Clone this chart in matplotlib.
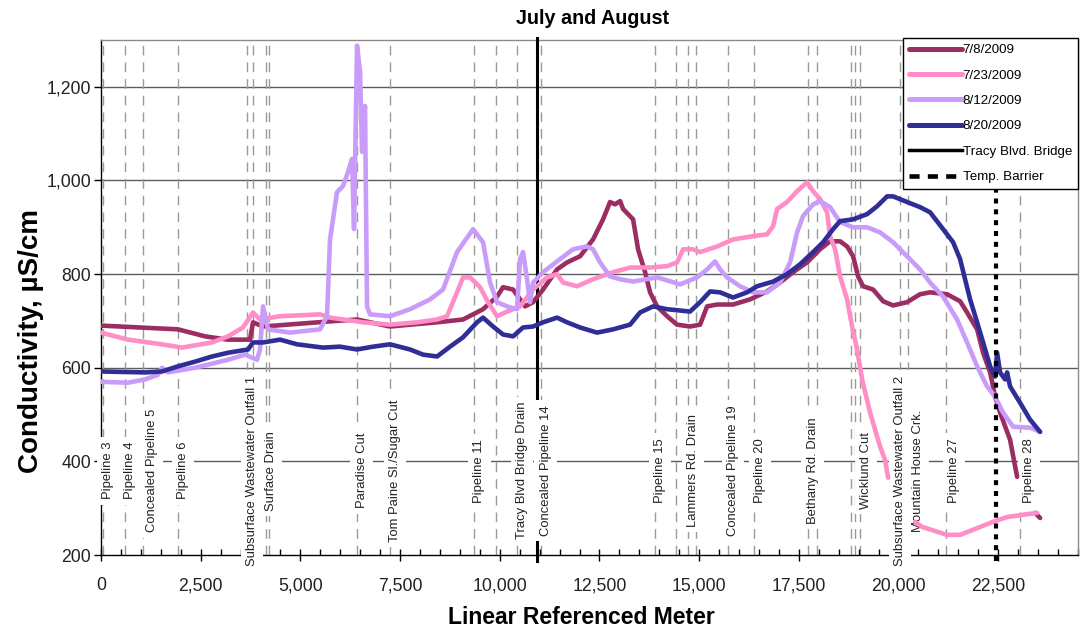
import numpy as np
import matplotlib
matplotlib.use("Agg")
import matplotlib.pyplot as plt
from matplotlib import font_manager
from matplotlib.lines import Line2D
from matplotlib.ticker import MultipleLocator, FuncFormatter
import matplotlib.transforms as mtransforms

nan = np.nan

# ---- survey data: linear referenced meter vs conductivity (uS/cm) ----
jul08_m = [0, 1931, 2608, 3185, 3737, 3812, 4063, 5743, 6420, 7248, 7750, 8427, 9079, 9581, 9932,
           10082, 10333, 10509, 10634, 10834, 11085, 11436, 11687, 12013, 12339, 12590, 12766, 12891,
           13017, 13092, 13343, 13468, 13644, 13769, 13945, 14196, 14446, 14772, 15023, 15198, 15449,
           15850, 16276, 16703, 17029, 17355, 17706, 18032, 18283, 18534, 18710, 18860, 18986, 19111,
           19362, 19613, 19863, 20214, 20540, 20791, 21217, 21543, 21719, 21970, 22120, 22296, 22421,
           22547, 22797, 22973, nan, 23424, 23550]
jul08_v = [690, 682, 667, 660, 660, 697, 688, 699, 703, 688, 692, 697, 703, 725, 752,
           772, 767, 746, 731, 740, 767, 810, 825, 838, 874, 917, 954, 949,
           956, 939, 917, 853, 804, 761, 731, 710, 692, 688, 692, 731, 735,
           735, 746, 763, 782, 804, 825, 853, 870, 870, 859, 838, 795, 774,
           767, 742, 733, 740, 757, 761, 757, 742, 718, 682, 632, 590, 538,
           504, 446, 367, nan, 290, 279]

jul23_m = [0, 677, 1530, 2031, 2784, 3185, 3561, 3812, 3988, 4489, 5493, 5743, 6571, 7248, 7925,
           8427, 8678, 8928, 9079, 9255, 9505, 9706, 9932, 10182, 10509, 10834, 11186, 11436, 11587,
           11938, 12339, 12841, 13268, 13769, 14196, 14446, 14597, 14847, 15023, 15449, 15850, 16352,
           16703, 16853, 16954, 17205, 17455, 17706, 17857, 18032, 18208, 18283, 18409, 18534, 18710,
           18835, 18960, 19086, 19287, 19538, 19663, 19738, nan, 20415, 20590, 21217, 21543, 21869,
           22371, 22722, 23124, 23475]
jul23_v = [675, 660, 650, 643, 654, 667, 686, 718, 703, 710, 714, 707, 697, 692, 697,
           703, 710, 761, 793, 793, 772, 740, 710, 720, 731, 767, 793, 800, 782,
           774, 789, 804, 814, 814, 817, 825, 853, 853, 847, 859, 874, 881,
           885, 902, 939, 954, 977, 996, 977, 960, 932, 881, 853, 795, 746,
           688, 639, 575, 504, 431, 403, 365, nan, 271, 260, 243, 243, 254,
           271, 281, 286, 290]

aug12_m = [0, 677, 1104, 1430, 1530, 1680, 2358, 3185, 3612, 3912, 3988, 4063, 4188, 4740, 5493,
           5668, 5743, 5919, 6069, 6195, 6295, 6345, 6420, 6496, 6546, 6621, 6671, 6747, 7248, 7750,
           8251, 8577, 8928, 9330, 9581, 9756, 9932, 10182, 10433, 10509, 10584, 10684, 10759, 10834,
           11085, 11511, 11837, 12188, 12339, 12515, 12766, 13017, 13343, 13945, 14522, 14947, 15198,
           15399, 15524, 15700, 16026, 16352, 16703, 17029, 17280, 17455, 17606, 17857, 18032, 18283,
           18534, 18860, 19211, 19538, 19863, 20214, 20540, 20791, 21117, 21468, 21719, 21970, 22221,
           22421, 22622, 22873, 23299, 23550]
aug12_v = [570, 568, 575, 585, 600, 590, 600, 617, 628, 617, 639, 731, 682, 675, 682,
           710, 874, 975, 988, 1018, 1046, 896, 1288, 1232, 1061, 1159, 731, 714, 710, 725,
           746, 767, 847, 896, 868, 782, 740, 731, 725, 832, 847, 789, 740, 782,
           804, 832, 853, 859, 853, 825, 795, 789, 784, 793, 778, 793, 810,
           827, 810, 793, 774, 761, 761, 782, 825, 889, 924, 949, 956, 943,
           911, 900, 900, 889, 868, 838, 810, 782, 752, 703, 654, 603, 560,
           538, 504, 474, 472, 463]

aug20_m = [0, 1104, 1530, 1931, 2358, 2784, 3185, 3687, 3812, 4063, 4489, 4916, 5568, 5994, 6420,
           6822, 7248, 7750, 8076, 8427, 8753, 9079, 9430, 9581, 9832, 10082, 10333, 10584, 10834,
           11085, 11436, 11687, 12013, 12440, 12841, 13268, 13518, 13844, 14196, 14772, 15023, 15274,
           15524, 15850, 16201, 16452, 16854, 17205, 17531, 17857, 18108, 18359, 18534, 18860, 19211,
           19462, 19713, 19863, 20214, 20540, 20791, 21117, 21368, 21543, 21668, 21794, 21970, 22120,
           22296, 22421, 22471, 22547, 22672, 22722, 22797, 23048, 23299, 23550]
aug20_v = [592, 590, 592, 603, 613, 624, 632, 639, 654, 654, 660, 650, 643, 645, 639,
           645, 650, 639, 628, 624, 645, 665, 697, 707, 688, 671, 667, 686, 688,
           697, 707, 697, 686, 675, 682, 692, 718, 731, 725, 720, 740, 763,
           761, 750, 761, 774, 784, 800, 821, 847, 868, 896, 913, 917, 928,
           945, 966, 966, 954, 943, 932, 896, 868, 832, 789, 746, 697, 654,
           603, 581, 632, 590, 575, 590, 560, 525, 489, 463]

series_labels = ["7/8/2009", "7/23/2009", "8/12/2009", "8/20/2009"]

# landmarks along the channel (meters)
landmark_names = ["Pipeline 3", "Pipeline 4", "Concealed Pipeline 5", "Pipeline 6",
                  "Subsurface Wastewater Outfall 1", "Surface Drain", "Paradise Cut",
                  "Tom Paine Sl./Sugar Cut", "Pipeline 11", "Tracy Blvd Bridge Drain",
                  "Concealed Pipeline 14", "Pipeline 15", "Lammers Rd. Drain",
                  "Concealed Pipeline 19", "Pipeline 20", "Bethany Rd. Drain", "Wicklund Cut",
                  "Subsurface Wastewater Outfall 2", "Mountain House Crk.", "Pipeline 27",
                  "Pipeline 28"]
landmark_m = [50, 600, 1055, 1930, 3660, 4140, 6410, 7250, 9365, 10430, 11025, 13890, 14720,
              15720, 16380, 17720, 19035, 20035, 20235, 21190, 23045]
unlabeled_m = [3805, 4220, 9895, 14420, 14920, 17950, 18800, 18910]

bridge_m = 10930
barrier_m = 22440

x_ticks = [0, 2500, 5000, 7500, 10000, 12500, 15000, 17500, 20000, 22500]
y_ticks = [200, 400, 600, 800, 1000, 1200]

# ---- fonts ----
_installed = {f.name for f in font_manager.fontManager.ttflist}
if 'Liberation Sans Narrow' in _installed:
    narrow = ['Liberation Sans Narrow', 'DejaVu Sans']
    tick_fs, xlabel_fs, title_fs, legend_fs = 15.5, 20, 17, 11.5
else:
    narrow = ['Liberation Sans', 'DejaVu Sans']
    tick_fs, xlabel_fs, title_fs, legend_fs = 12.7, 16.5, 14.2, 9.6
plt.rcParams['font.family'] = ['Liberation Sans', 'DejaVu Sans']

colors = ["#9B2D62", "#FF8DC8", "#C99CFA", "#2E2E96"]

fig = plt.figure(figsize=(10.81, 6.29), dpi=100)
ax = fig.add_axes([101 / 1081, 1 - 555 / 629, 977 / 1081, 515 / 629])
ax.set_xlim(0, 24500)
ax.set_ylim(200, 1300)

# horizontal grid
for y in y_ticks[1:]:
    ax.axhline(y, color="#5c5c5c", lw=1.0, zorder=1)

# landmark reference lines
for m in list(landmark_m) + list(unlabeled_m):
    ax.axvline(m, color="#9a9a9a", lw=1.0, ls=(0, (7, 5)), zorder=1.5)

# conductivity traces
for xs, ys, c, lab in zip([jul08_m, jul23_m, aug12_m, aug20_m],
                          [jul08_v, jul23_v, aug12_v, aug20_v], colors, series_labels):
    ax.plot(xs, ys, color=c, lw=3.3, label=lab, zorder=3.5,
            solid_joinstyle="round", solid_capstyle="round")

# bridge and barrier markers
trans_v = mtransforms.blended_transform_factory(ax.transData, ax.transAxes)
ax.plot([bridge_m, bridge_m], [-0.012, 1.004], transform=trans_v, color="black",
        lw=2.2, zorder=2.6, clip_on=False)
ax.plot([barrier_m, barrier_m], [-0.012, 1.004], transform=trans_v, color="black",
        lw=3.0, ls=(0, (1.2, 1.4)), zorder=3.6, clip_on=False)

# landmark labels, nudged right of their reference lines
label_dx = {"Concealed Pipeline 5": 9, "Subsurface Wastewater Outfall 2": 0,
            "Mountain House Crk.": 10, "Pipeline 27": 8, "Pipeline 28": 9,
            "Wicklund Cut": 6, "Pipeline 20": 6}
for name, m in zip(landmark_names, landmark_m):
    tr = mtransforms.offset_copy(ax.transData, fig=fig, x=label_dx.get(name, 5), y=0,
                                 units="dots")
    ax.text(m, 380, name, transform=tr, rotation=90, ha="center", va="center",
            fontsize=9.4, color="#222222", zorder=3, clip_on=False,
            bbox=dict(boxstyle="square,pad=0.4", fc="white", ec="none"))

# axes styling
for side in ["left", "bottom"]:
    ax.spines[side].set_color("black")
    ax.spines[side].set_linewidth(1.0)
for side in ["top", "right"]:
    ax.spines[side].set_color("#8a8a8a")
    ax.spines[side].set_linewidth(1.0)

ax.set_xticks(x_ticks)
ax.xaxis.set_minor_locator(MultipleLocator(500))
ax.set_yticks(y_ticks)
fmt = FuncFormatter(lambda v, p: f"{v:,.0f}")
ax.xaxis.set_major_formatter(fmt)
ax.yaxis.set_major_formatter(fmt)
ax.tick_params(axis="x", which="major", direction="inout", length=8, width=1, pad=12,
               labelsize=tick_fs, colors="black")
ax.tick_params(axis="x", which="minor", direction="in", length=4, width=1)
ax.tick_params(axis="y", which="major", direction="out", length=5, width=1, pad=2,
               labelsize=tick_fs)
for lbl in ax.get_xticklabels() + ax.get_yticklabels():
    lbl.set_family(narrow)
    lbl.set_color("#222222")

fig.text(581 / 1081, 1 - 617 / 629, "Linear Referenced Meter", ha="center", va="center",
         fontsize=xlabel_fs, fontweight="bold", family=narrow)
fig.text(31 / 1081, 1 - 341 / 629, "Conductivity, µS/cm", ha="center", va="center",
         rotation=90, fontsize=20, fontweight="bold")
fig.text(593 / 1081, 1 - 18 / 629, "July and August", ha="center", va="center",
         fontsize=title_fs, fontweight="bold", family=narrow)

# legend
handles, labels = ax.get_legend_handles_labels()
handles += [Line2D([], [], color="black", lw=2.5),
            Line2D([], [], color="black", lw=3.3, ls=(0, (2.2, 1.8)))]
labels += ["Tracy Blvd. Bridge", "Temp. Barrier"]
leg = ax.legend(handles, labels, loc="upper right", bbox_to_anchor=(1.0, 1.004),
                borderaxespad=0, frameon=True, fancybox=False, framealpha=1,
                edgecolor="black", handlelength=4.0, handletextpad=0.05,
                labelspacing=0.98, borderpad=0.45, prop={"family": narrow, "size": legend_fs})
leg.get_frame().set_linewidth(1.0)
for h in leg.get_lines()[:4]:
    h.set_linewidth(3.6)
leg.set_zorder(5)

fig.savefig("out.png", dpi=100)
